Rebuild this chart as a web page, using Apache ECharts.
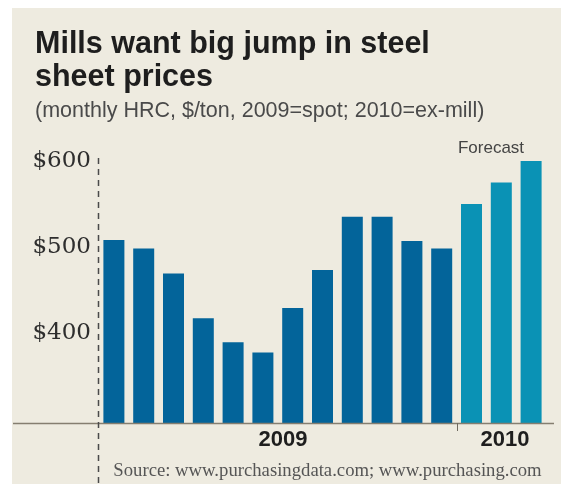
<!DOCTYPE html>
<html>
<head>
<meta charset="utf-8">
<script src="https://cdn.jsdelivr.net/npm/echarts@6/dist/echarts.min.js"></script>
<style>
html,body{margin:0;padding:0;background:#ffffff;}
#chart{width:561px;height:486px;}
</style>
</head>
<body>
<div id="chart"></div>
<script>
// ---- data ----
const months = ['Jan','Feb','Mar','Apr','May','Jun','Jul','Aug','Sep','Oct','Nov','Dec','Jan','Feb','Mar'];
const years = ['2009','2009','2009','2009','2009','2009','2009','2009','2009','2009','2009','2009','2010','2010','2010'];
const prices2009 = [508, 498, 469, 417, 389, 377, 429, 473, 535, 535, 507, 498];
const forecast2010 = [550, 575, 600];
const yTickValues = [400, 500, 600];
const yearLabels = ['2009', '2010'];
const titleLines = ['Mills want big jump in steel', 'sheet prices'];
const subtitle = '(monthly HRC, $/ton, 2009=spot; 2010=ex-mill)';
const forecastLabel = 'Forecast';
const sourceText = 'Source: www.purchasingdata.com; www.purchasing.com';

const COLOR_2009 = '#03649a';
const COLOR_2010 = '#0a92b5';

const allValues = prices2009.concat(forecast2010);
const barData = allValues.map((v, i) => ({
  value: v,
  itemStyle: { color: years[i] === '2010' ? COLOR_2010 : COLOR_2009 }
}));

const chart = echarts.init(document.getElementById('chart'), null, { renderer: 'canvas' });

const staticGraphics = [
  { type: 'rect', z: -10, shape: { x: 12, y: 8, width: 549, height: 476 }, style: { fill: '#eeebe0' } },
  { type: 'line', z: 5, shape: { x1: 13, y1: 423.5, x2: 554, y2: 423.5 }, style: { stroke: '#857e70', lineWidth: 1.5 } },
  { type: 'line', z: 5, shape: { x1: 98.5, y1: 158, x2: 98.5, y2: 484 }, style: { stroke: '#4a4a4a', lineWidth: 1.5, lineDash: [6, 5] } },
  { type: 'text', z: 10, style: { text: titleLines[0], x: 35, y: 44.5, verticalAlign: 'middle', font: 'bold 30.5px "Liberation Sans"', fill: '#1e1e1e' } },
  { type: 'text', z: 10, style: { text: titleLines[1], x: 35, y: 77.5, verticalAlign: 'middle', font: 'bold 30.5px "Liberation Sans"', fill: '#1e1e1e' } },
  { type: 'text', z: 10, style: { text: subtitle, x: 35, y: 111, verticalAlign: 'middle', font: '21.5px "Liberation Sans"', fill: '#4a4a4a' } },
  { type: 'text', z: 10, style: { text: forecastLabel, x: 491, y: 148, align: 'center', verticalAlign: 'middle', font: '17px "Liberation Sans"', fill: '#444444' } },
  { type: 'text', z: 10, style: { text: yearLabels[0], x: 283, y: 440, align: 'center', verticalAlign: 'middle', font: 'bold 22px "Liberation Sans"', fill: '#1e1e1e' } },
  { type: 'text', z: 10, style: { text: yearLabels[1], x: 505, y: 440, align: 'center', verticalAlign: 'middle', font: 'bold 22px "Liberation Sans"', fill: '#1e1e1e' } },
  { type: 'text', z: 10, style: { text: sourceText, x: 327.5, y: 471, align: 'center', verticalAlign: 'middle', font: '18.7px "Liberation Serif"', fill: '#555555' } }
];

const option = {
  backgroundColor: '#ffffff',
  animation: false,
  grid: { left: 99, right: 15, top: 161, bottom: 63, containLabel: false },
  xAxis: {
    type: 'category',
    data: months,
    boundaryGap: true,
    axisLine: { show: false },
    axisLabel: { show: false },
    axisTick: { show: false },
    splitLine: { show: false }
  },
  yAxis: {
    type: 'value',
    min: 295,
    max: 600,
    axisLine: { show: false },
    axisTick: { show: false },
    splitLine: { show: false },
    axisLabel: {
      customValues: yTickValues,
      formatter: (v) => '$' + v,
      fontFamily: 'DejaVu Serif',
      fontSize: 23,
      color: '#2e2e2e',
      margin: 8
    }
  },
  series: [{
    type: 'bar',
    data: barData,
    barWidth: 21,
    z: 3
  }],
  graphic: staticGraphics
};
chart.setOption(option);

// year-boundary tick, placed from the category axis
const firstForecast = years.indexOf('2010');
const xa = chart.convertToPixel({ xAxisIndex: 0 }, firstForecast - 1);
const xb = chart.convertToPixel({ xAxisIndex: 0 }, firstForecast);
const bx = Math.round((xa + xb) / 2) + 0.5;
chart.setOption({
  graphic: staticGraphics.concat([
    { type: 'line', z: 6, shape: { x1: bx, y1: 423, x2: bx, y2: 431 }, style: { stroke: '#6f6a60', lineWidth: 1 } }
  ])
});
</script>
</body>
</html>
